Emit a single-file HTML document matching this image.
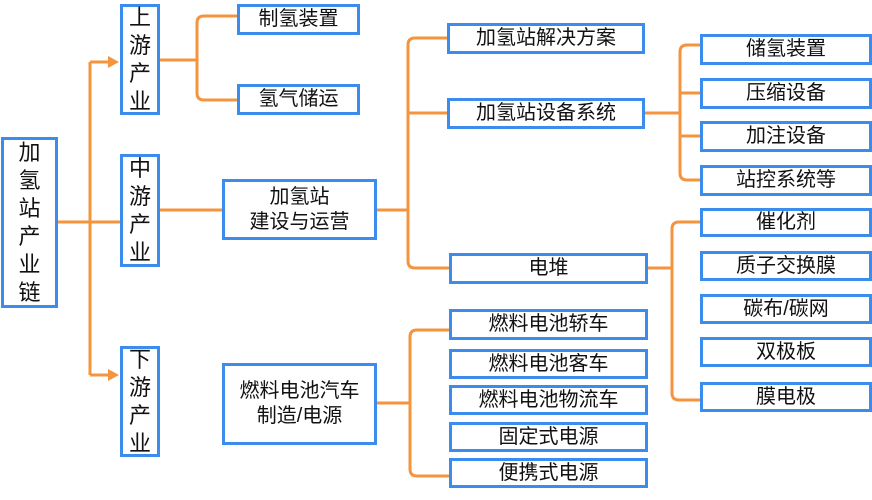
<!DOCTYPE html>
<html><head><meta charset="utf-8"><style>
body{margin:0;width:872px;height:500px;background:#fff;position:relative;overflow:hidden;font-family:"Liberation Sans","Noto Sans CJK SC",sans-serif;}
.b{position:absolute;box-sizing:border-box;border:3px solid #3b8ced;background:#fff;display:flex;align-items:center;justify-content:center;text-align:center;font-size:20px;color:#111;line-height:25px;}
.v{font-size:22px;line-height:28px;}
svg{position:absolute;left:0;top:0}
</style></head><body>
<svg width="872" height="500" fill="none" stroke="#f5943f" stroke-width="3">
<path d="M58 222H90M90 62V375M90 62H112M90 222H120M90 375H112"/>
<path d="M108 56L119 62L108 68Z M108 369L119 375L108 381Z" fill="#f5943f" stroke="none"/>
<path d="M160 60H197M237 16H204Q197 16 197 23V93Q197 100 204 100H237"/>
<path d="M160 210H222"/>
<path d="M377 210H408M447 38H415Q408 38 408 45V261Q408 268 415 268H449M408 113H447"/>
<path d="M645 113H680M700 45H687Q680 45 680 52V173Q680 180 687 180H700M680 93H700M680 136H700"/>
<path d="M648 268H672M700 222H679Q672 222 672 229V393Q672 400 679 400H700"/>
<path d="M377 403H410M449 330H417Q410 330 410 337V469Q410 476 417 476H449"/>
</svg>
<div class="b v" style="left:1px;top:137px;width:57px;height:171px;">加<br>氢<br>站<br>产<br>业<br>链</div>
<div class="b v" style="left:120px;top:4px;width:40px;height:111px;">上<br>游<br>产<br>业</div>
<div class="b v" style="left:120px;top:154px;width:40px;height:113px;">中<br>游<br>产<br>业</div>
<div class="b v" style="left:120px;top:346px;width:40px;height:111px;">下<br>游<br>产<br>业</div>
<div class="b" style="left:237px;top:4px;width:123px;height:31px;">制氢装置</div>
<div class="b" style="left:237px;top:84px;width:123px;height:31px;">氢气储运</div>
<div class="b" style="left:222px;top:179px;width:155px;height:61px;">加氢站<br>建设与运营</div>
<div class="b" style="left:222px;top:363px;width:155px;height:82px;">燃料电池汽车<br>制造/电源</div>
<div class="b" style="left:447px;top:23px;width:198px;height:31px;">加氢站解决方案</div>
<div class="b" style="left:447px;top:98px;width:198px;height:31px;">加氢站设备系统</div>
<div class="b" style="left:449px;top:253px;width:199px;height:31px;">电堆</div>
<div class="b" style="left:449px;top:309px;width:199px;height:31px;">燃料电池轿车</div>
<div class="b" style="left:449px;top:349px;width:199px;height:30px;">燃料电池客车</div>
<div class="b" style="left:449px;top:385px;width:199px;height:30px;">燃料电池物流车</div>
<div class="b" style="left:449px;top:422px;width:199px;height:30px;">固定式电源</div>
<div class="b" style="left:449px;top:458px;width:199px;height:30px;">便携式电源</div>
<div class="b" style="left:700px;top:34px;width:172px;height:31px;">储氢装置</div>
<div class="b" style="left:700px;top:78px;width:172px;height:31px;">压缩设备</div>
<div class="b" style="left:700px;top:121px;width:172px;height:31px;">加注设备</div>
<div class="b" style="left:700px;top:165px;width:172px;height:31px;">站控系统等</div>
<div class="b" style="left:700px;top:208px;width:172px;height:29px;">催化剂</div>
<div class="b" style="left:700px;top:251px;width:172px;height:30px;">质子交换膜</div>
<div class="b" style="left:700px;top:294px;width:172px;height:30px;">碳布/碳网</div>
<div class="b" style="left:700px;top:337px;width:172px;height:30px;">双极板</div>
<div class="b" style="left:700px;top:382px;width:172px;height:30px;">膜电极</div>
</body></html>
